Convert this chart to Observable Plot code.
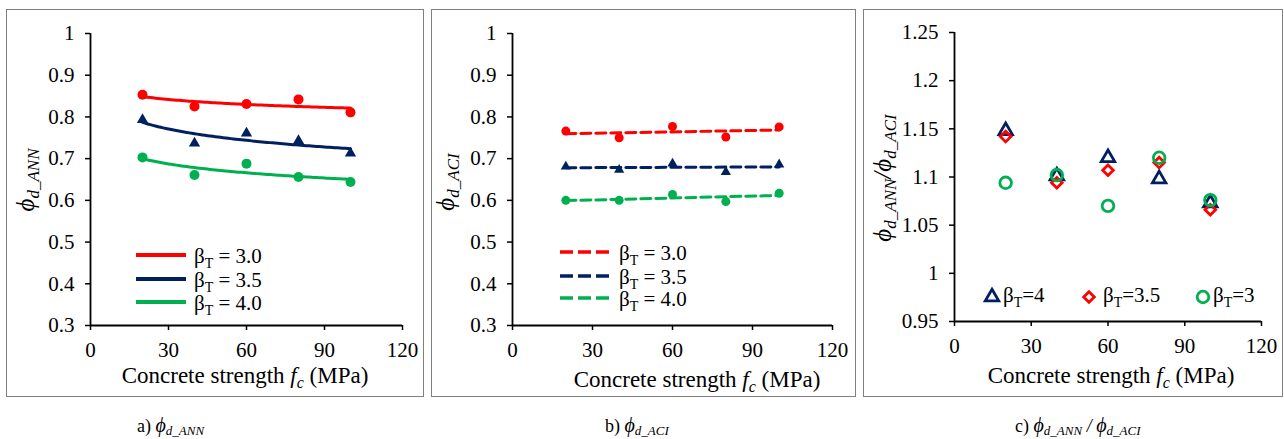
<!DOCTYPE html>
<html>
<head>
<meta charset="utf-8">
<script src="https://cdn.jsdelivr.net/npm/d3@7"></script>
<script src="https://cdn.jsdelivr.net/npm/@observablehq/plot@0.6"></script>
<style>
  body { margin: 0; background: #fff; }
  #root { position: relative; width: 1284px; height: 439px; font-family: 'Liberation Serif', 'Times New Roman', serif; }
  .panel { position: absolute; outline: 1.5px solid #7f7f7f; background: #fff; }
  .panel svg { display: block; overflow: visible; }
</style>
</head>
<body>
<div id="root">
  <div class="panel" id="pa" style="left:7px;top:10px;width:416px;height:386px"></div>
  <div class="panel" id="pb" style="left:432px;top:10px;width:423px;height:386px"></div>
  <div class="panel" id="pc" style="left:864px;top:10px;width:418px;height:386px"></div>
</div>
<script>
// Concrete strength values (MPa)
const fc = [20, 40, 60, 80, 100];
const xTicks = [0, 30, 60, 90, 120];

// Resistance factor from the ANN model
const annB30 = [0.853, 0.825, 0.831, 0.842, 0.811];
const annB35 = [0.793, 0.737, 0.761, 0.743, 0.713];
const annB40 = [0.703, 0.661, 0.688, 0.656, 0.644];

// Resistance factor from the ACI model
const aciB30 = [0.766, 0.750, 0.777, 0.752, 0.776];
const aciB35 = [0.681, 0.673, 0.688, 0.668, 0.686];
const aciB40 = [0.600, 0.600, 0.614, 0.597, 0.617];

// Ratio ANN / ACI
const ratioB4 = [1.148, 1.101, 1.120, 1.098, 1.073];
const ratioB35 = [1.142, 1.094, 1.107, 1.115, 1.066];
const ratioB3 = [1.094, 1.102, 1.070, 1.120, 1.076];

const phiTicks = [0.3, 0.4, 0.5, 0.6, 0.7, 0.8, 0.9, 1];
const ratioTicks = [0.95, 1, 1.05, 1.1, 1.15, 1.2, 1.25];

const RED = "#FF0000", NAVY = "#002060", GREEN = "#00B050";
const SERIF = "'Liberation Serif', 'Times New Roman', serif";
const PHI = "\u03d5";

const rows = (ys) => fc.map((x, i) => ({x, y: ys[i]}));

// Logarithmic trend line y = a ln(x) + b fitted to the points
function logTrend(ys) {
  const lx = fc.map(Math.log);
  const mx = d3.mean(lx), my = d3.mean(ys);
  const a = d3.sum(lx, (v, i) => (v - mx) * (ys[i] - my)) / d3.sum(lx, v => (v - mx) ** 2);
  const b = my - a * mx;
  return d3.range(fc[0], fc[fc.length - 1] + 0.5, 1).map(x => ({x, y: a * Math.log(x) + b}));
}

const fmt = d => String(+d.toFixed(2));

function axes(yDomainMin, yTicks) {
  return [
    Plot.axisX({ticks: xTicks, tickSize: 5, tickPadding: 12, strokeWidth: 1.5, label: null, tickFormat: fmt, fontFamily: SERIF, fontSize: 21}),
    Plot.axisY({ticks: yTicks, tickSize: 5, tickPadding: 11, strokeWidth: 1.5, label: null, tickFormat: fmt, fontFamily: SERIF, fontSize: 21}),
    Plot.ruleX([0], {strokeWidth: 1.8}),
    Plot.ruleY([yDomainMin], {strokeWidth: 1.8})
  ];
}

// Text with mixed italic / subscript parts
function rich(svg, x, y, parts, opts = {}) {
  const t = d3.select(svg).append("text")
    .attr("x", x).attr("y", y)
    .style("font-family", SERIF).attr("fill", "#000")
    .attr("text-anchor", opts.anchor || "start");
  if (opts.rotate) t.attr("transform", `rotate(-90 ${x} ${y})`);
  let shift = 0;
  for (const p of parts) {
    const ts = t.append("tspan").text(p.t).attr("font-size", p.size);
    if (p.italic) ts.attr("font-style", "italic");
    const s = p.shift || 0;
    if (s - shift) ts.attr("dy", s - shift);
    shift = s;
  }
  return t;
}

const xTitle = [
  {t: "Concrete strength ", size: 23},
  {t: "f", size: 23, italic: true},
  {t: "c", size: 16, italic: true, shift: 5},
  {t: " (MPa)", size: 23}
];
const phiSub = (s) => [
  {t: PHI, size: 25, italic: true},
  {t: s, size: 17, italic: true, shift: 5}
];
const betaLabel = (v, sp) => [
  {t: "\u03b2", size: 21},
  {t: "T", size: 14, shift: 5},
  {t: sp ? " = " + v : "=" + v, size: 21}
];
const plotStyle = {fontFamily: SERIF, fontSize: "21px", color: "#000", background: "#fff", overflow: "visible"};

// ---------- a) ANN ----------
{
  const svg = Plot.plot({
    width: 416, height: 386,
    marginLeft: 83, marginRight: 21, marginTop: 23, marginBottom: 71,
    style: plotStyle,
    x: {domain: [0, 120]},
    y: {domain: [0.3, 1]},
    marks: [
      ...axes(0.3, phiTicks),
      Plot.dot(rows(annB30), {x: "x", y: "y", r: 5, fill: RED}),
      Plot.dot(rows(annB35), {x: "x", y: "y", r: 4.2, symbol: "triangle", fill: NAVY}),
      Plot.dot(rows(annB40), {x: "x", y: "y", r: 5, fill: GREEN}),
      Plot.line(logTrend(annB30), {x: "x", y: "y", stroke: RED, strokeWidth: 3}),
      Plot.line(logTrend(annB35), {x: "x", y: "y", stroke: NAVY, strokeWidth: 3}),
      Plot.line(logTrend(annB40), {x: "x", y: "y", stroke: GREEN, strokeWidth: 3})
    ]
  });
  document.getElementById("pa").append(svg);
  rich(svg, 238, 373, xTitle, {anchor: "middle"});
  rich(svg, 27, 170, phiSub("d_ANN"), {anchor: "middle", rotate: true});
  const g = d3.select(svg);
  [[RED, "3.0", 245], [NAVY, "3.5", 269], [GREEN, "4.0", 292]].forEach(([c, v, y]) => {
    g.append("line").attr("x1", 129).attr("x2", 179).attr("y1", y).attr("y2", y)
      .attr("stroke", c).attr("stroke-width", 4);
    rich(svg, 187, y + 8, betaLabel(v, true));
  });
}

// ---------- b) ACI ----------
{
  const svg = Plot.plot({
    width: 423, height: 386,
    marginLeft: 80, marginRight: 23, marginTop: 23, marginBottom: 71,
    style: plotStyle,
    x: {domain: [0, 120]},
    y: {domain: [0.3, 1]},
    marks: [
      ...axes(0.3, phiTicks),
      Plot.dot(rows(aciB30), {x: "x", y: "y", r: 4.5, fill: RED}),
      Plot.dot(rows(aciB35), {x: "x", y: "y", r: 3.8, symbol: "triangle", fill: NAVY}),
      Plot.dot(rows(aciB40), {x: "x", y: "y", r: 4.5, fill: GREEN}),
      Plot.linearRegressionY(rows(aciB30), {x: "x", y: "y", ci: 0, stroke: RED, strokeWidth: 3, strokeDasharray: "10,5"}),
      Plot.linearRegressionY(rows(aciB35), {x: "x", y: "y", ci: 0, stroke: NAVY, strokeWidth: 3, strokeDasharray: "10,5"}),
      Plot.linearRegressionY(rows(aciB40), {x: "x", y: "y", ci: 0, stroke: GREEN, strokeWidth: 3, strokeDasharray: "10,5"})
    ]
  });
  document.getElementById("pb").append(svg);
  rich(svg, 265, 377, xTitle, {anchor: "middle"});
  rich(svg, 22, 172, phiSub("d_ACI"), {anchor: "middle", rotate: true});
  const g = d3.select(svg);
  [[RED, "3.0", 242], [NAVY, "3.5", 266], [GREEN, "4.0", 288]].forEach(([c, v, y]) => {
    g.append("line").attr("x1", 128).attr("x2", 180).attr("y1", y).attr("y2", y)
      .attr("stroke", c).attr("stroke-width", 3.5).attr("stroke-dasharray", "13,5");
    rich(svg, 187, y + 8, betaLabel(v, true));
  });
}

// ---------- c) ANN / ACI ----------
{
  const svg = Plot.plot({
    width: 418, height: 386,
    marginLeft: 90, marginRight: 21, marginTop: 22, marginBottom: 75,
    style: plotStyle,
    x: {domain: [0, 120]},
    y: {domain: [0.95, 1.25]},
    marks: [
      ...axes(0.95, ratioTicks),
      Plot.dot(rows(ratioB4), {x: "x", y: "y", r: 5, symbol: "triangle", stroke: NAVY, strokeWidth: 2.8, fill: "none"}),
      Plot.dot(rows(ratioB35), {x: "x", y: "y", r: 4.8, symbol: "diamond2", stroke: RED, strokeWidth: 2.8, fill: "none"}),
      Plot.dot(rows(ratioB3), {x: "x", y: "y", r: 5.8, stroke: GREEN, strokeWidth: 2.8, fill: "none"})
    ]
  });
  document.getElementById("pc").append(svg);
  rich(svg, 247, 373, xTitle, {anchor: "middle"});
  rich(svg, 27, 168, [
    ...phiSub("d_ANN"),
    {t: "/", size: 25, italic: true, shift: 0},
    ...phiSub("d_ACI")
  ], {anchor: "middle", rotate: true});
  const g = d3.select(svg);
  const sym = (type, r) => d3.symbol(type, Math.PI * r * r)();
  const items = [
    [d3.symbolTriangle, 5, NAVY, 128, 139, "4"],
    [d3.symbolDiamond2, 4.8, RED, 225, 239, "3.5"],
    [d3.symbolCircle, 5.8, GREEN, 339, 349, "3"]
  ];
  items.forEach(([t, r, c, mx, tx, v]) => {
    g.append("path").attr("d", sym(t, r)).attr("transform", `translate(${mx},287)`)
      .attr("fill", "none").attr("stroke", c).attr("stroke-width", 2.8);
    rich(svg, tx, 292, betaLabel(v, false));
  });
}

// ---------- captions ----------
{
  const root = document.getElementById("root");
  const svg = d3.create("svg").attr("width", 1284).attr("height", 439)
    .style("position", "absolute").style("left", 0).style("top", 0).style("pointer-events", "none").node();
  root.append(svg);
  const cap = (s) => [{t: PHI, size: 20, italic: true}, {t: s, size: 13, italic: true, shift: 3}];
  rich(svg, 137, 432, [{t: "a) ", size: 18}, ...cap("d_ANN")]);
  rich(svg, 605, 432, [{t: "b) ", size: 18}, ...cap("d_ACI")]);
  rich(svg, 1015, 432, [{t: "c) ", size: 18}, ...cap("d_ANN"), {t: " / ", size: 18, italic: true, shift: 0}, ...cap("d_ACI")]);
}
</script>
</body>
</html>
